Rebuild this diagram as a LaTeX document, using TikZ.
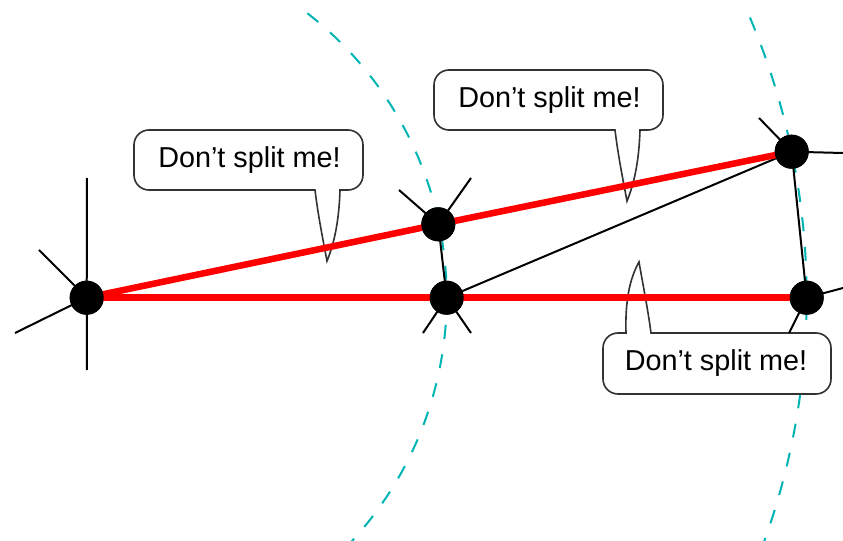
\documentclass[tikz,border=0pt]{standalone}
\usepackage{fontspec}
\setmainfont{Liberation Sans}
\definecolor{arccol}{RGB}{0,180,180}
\definecolor{rimcol}{RGB}{50,50,50}
\begin{document}
\begin{tikzpicture}[x=0.75pt,y=0.75pt,
  dot/.style={circle,fill=black,inner sep=0pt,minimum size=25.5pt},
  spoke/.style={black,line width=1.5pt},
  redline/.style={red,line width=4.9pt},
  guide/.style={arccol,line width=1.5pt,dash pattern=on 10.5pt off 11.7pt},
  callout/.style={draw=rimcol,fill=white,line width=1.2pt},
  say/.style={font=\fontsize{21.6}{25}\selectfont,inner sep=0pt}]
\useasboundingbox (0,0) rectangle (843,540);
% positions
\coordinate (pA) at (86.7,242.3);
\coordinate (pB) at (438.3,315.7);
\coordinate (pC) at (446.7,242.3);
\coordinate (pD) at (791.7,388.3);
\coordinate (pE) at (806.7,242.3);
% guide arcs centred at A
\draw[guide] (pA) ++(52.2:360) arc[start angle=52.2,end angle=-43.5,radius=360];
\draw[guide] (pA) ++(22.9:720) arc[start angle=22.9,end angle=-21,radius=720];
% callouts
\draw[callout] (134,365) -- (134,395) arc[start angle=180,end angle=90,radius=15]
  -- (348,410) arc[start angle=90,end angle=0,radius=15]
  -- (363,365) arc[start angle=0,end angle=-90,radius=15]
  -- (340,350) .. controls (339,318) and (334,296) .. (327,279)
  .. controls (323,300) and (318,325) .. (315,350)
  -- (149,350) arc[start angle=270,end angle=180,radius=15] -- cycle;
\node[say] (t1) at (249.5,380) {Don’t split me!};
\draw[callout] (434,425) -- (434,455) arc[start angle=180,end angle=90,radius=15]
  -- (648,470) arc[start angle=90,end angle=0,radius=15]
  -- (663,425) arc[start angle=0,end angle=-90,radius=15]
  -- (640,410) .. controls (639,378) and (634,356) .. (627,339)
  .. controls (623,360) and (618,385) .. (615,410)
  -- (449,410) arc[start angle=270,end angle=180,radius=15] -- cycle;
\node[say] (t2) at (549.5,440) {Don’t split me!};
\draw[callout] (603,161) -- (603,192) arc[start angle=180,end angle=90,radius=15]
  -- (626,207) .. controls (625,240) and (630,262) .. (639,278)
  .. controls (643,255) and (648,230) .. (651,207)
  -- (816,207) arc[start angle=90,end angle=0,radius=15]
  -- (831,161) arc[start angle=0,end angle=-90,radius=15]
  -- (618,146) arc[start angle=270,end angle=180,radius=15] -- cycle;
\node[say] (t3) at (716,176.5) {Don’t split me!};
% spoke ends
\coordinate (a1) at (87,362); \coordinate (a2) at (87,170);
\coordinate (a3) at (39,290); \coordinate (a4) at (15,207);
\coordinate (b1) at (399,350); \coordinate (b2) at (471,362);
\coordinate (c1) at (423,207); \coordinate (c2) at (471,207);
\coordinate (d1) at (759,422); \coordinate (d2) at (843,387);
\coordinate (e1) at (843,252); \coordinate (e2) at (789,207);
% nodes
\node[dot] (A) at (pA) {};
\node[dot] (B) at (pB) {};
\node[dot] (C) at (pC) {};
\node[dot] (D) at (pD) {};
\node[dot] (E) at (pE) {};
% spokes and black edges
\draw[spoke] (A.center) -- (a1) (A.center) -- (a2) (A.center) -- (a3) (A.center) -- (a4);
\draw[spoke] (B.center) -- (b1) (B.center) -- (b2);
\draw[spoke] (C.center) -- (c1) (C.center) -- (c2);
\draw[spoke] (D.center) -- (d1) (D.center) -- (d2);
\draw[spoke] (E.center) -- (e1) (E.center) -- (e2);
\draw[spoke] (B.center) -- (C.center);
\draw[spoke] (C.center) -- (D.center);
\draw[spoke] (D.center) -- (E.center);
% red edges
\draw[redline] (A.center) -- (B.center);
\draw[redline] (B.center) -- (D.center);
\draw[redline] (A.center) -- (C.center);
\draw[redline] (C.center) -- (E.center);
% redraw dots on top
\foreach \n in {A,B,C,D,E} \fill[black] (\n.center) circle[radius=12.75pt];
\end{tikzpicture}
\end{document}
